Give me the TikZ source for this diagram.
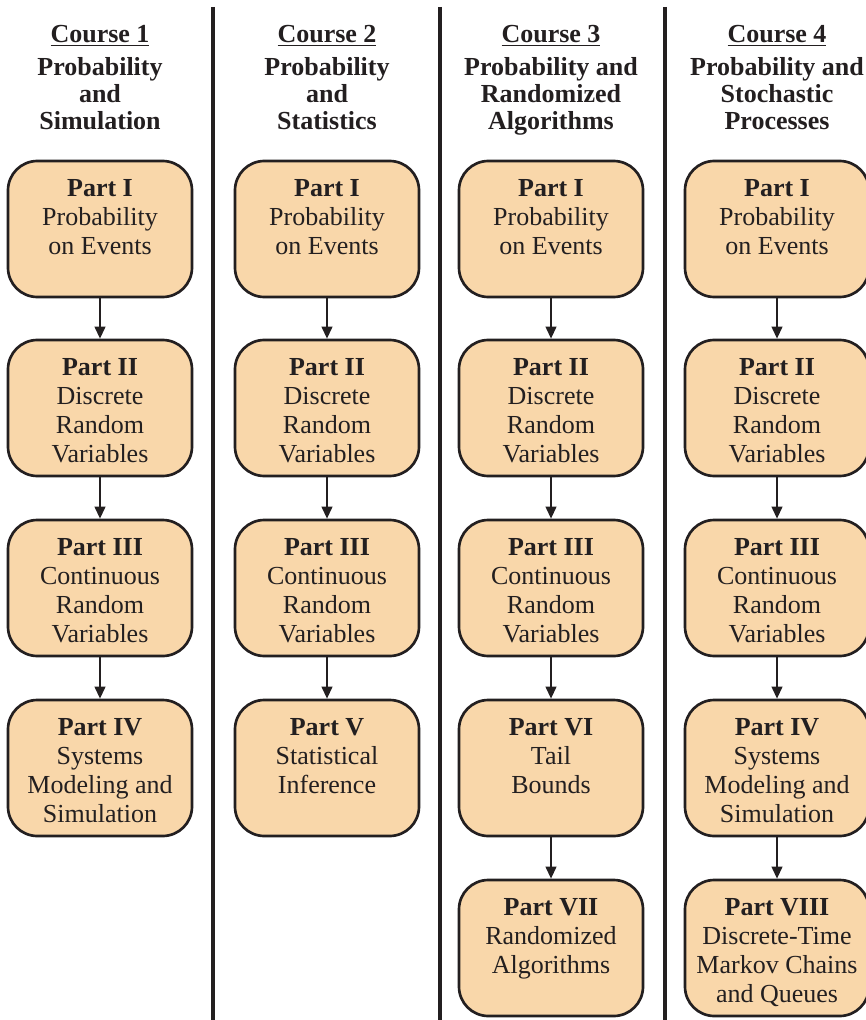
\documentclass[tikz,border=0pt]{standalone}
\usepackage{fontspec}
\setmainfont{Liberation Serif}
\usetikzlibrary{arrows.meta}
\definecolor{ink}{RGB}{35,31,32}
\definecolor{peach}{RGB}{249,215,170}
\tikzset{
  box/.style={draw=ink, fill=peach, line width=2pt, rounded corners=22pt,
    minimum width=138pt, minimum height=102pt, inner sep=0pt},
  ptext/.style={anchor=base, inner sep=0pt, text=ink,
    font=\fontsize{19.5pt}{21.75pt}\selectfont},
  htext/.style={anchor=base, inner sep=0pt, text=ink,
    font=\fontsize{19.5pt}{20.25pt}\selectfont\bfseries},
  arr/.style={draw=ink, line width=1.5pt, -{Triangle[length=9pt,width=8pt]}},
  sep/.style={draw=ink, line width=3pt}
}
\newcommand\mkpart[4]{%
  \node[box] (#1) at (#2, #3+68) {};
  \node[ptext] (#1t) at (#2, #3+35) {\begin{tabular}[t]{@{}c@{}}#4\end{tabular}};
}
\begin{document}
\begin{tikzpicture}[x=0.75pt,y=-0.75pt]
\useasboundingbox (0,0) rectangle (865,1020);
% separators
\draw[sep] (212.5,7) -- (212.5,1020);
\draw[sep] (440,7) -- (440,1020);
\draw[sep] (664.5,7) -- (664.5,1020);
% headers
\node[htext] (h1) at (100,43) {\begin{tabular}[t]{@{}c@{}}\underline{Course 1}\\[4.5pt] Probability\\ and\\ Simulation\end{tabular}};
\node[htext] (h2) at (327,43) {\begin{tabular}[t]{@{}c@{}}\underline{Course 2}\\[4.5pt] Probability\\ and\\ Statistics\end{tabular}};
\node[htext] (h3) at (551,43) {\begin{tabular}[t]{@{}c@{}}\underline{Course 3}\\[4.5pt] Probability and\\ Randomized\\ Algorithms\end{tabular}};
\node[htext] (h4) at (777,43) {\begin{tabular}[t]{@{}c@{}}\underline{Course 4}\\[4.5pt] Probability and\\ Stochastic\\ Processes\end{tabular}};
% column 1
\mkpart{a1}{100}{161}{\textbf{Part I}\\ Probability\\ on Events}
\mkpart{a2}{100}{340}{\textbf{Part II}\\ Discrete\\ Random\\ Variables}
\mkpart{a3}{100}{520}{\textbf{Part III}\\ Continuous\\ Random\\ Variables}
\mkpart{a4}{100}{700}{\textbf{Part IV}\\ Systems\\ Modeling and\\ Simulation}
% column 2
\mkpart{b1}{327}{161}{\textbf{Part I}\\ Probability\\ on Events}
\mkpart{b2}{327}{340}{\textbf{Part II}\\ Discrete\\ Random\\ Variables}
\mkpart{b3}{327}{520}{\textbf{Part III}\\ Continuous\\ Random\\ Variables}
\mkpart{b4}{327}{700}{\textbf{Part V}\\ Statistical\\ Inference}
% column 3
\mkpart{c1}{551}{161}{\textbf{Part I}\\ Probability\\ on Events}
\mkpart{c2}{551}{340}{\textbf{Part II}\\ Discrete\\ Random\\ Variables}
\mkpart{c3}{551}{520}{\textbf{Part III}\\ Continuous\\ Random\\ Variables}
\mkpart{c4}{551}{700}{\textbf{Part VI}\\ Tail\\ Bounds}
\mkpart{c5}{551}{880}{\textbf{Part VII}\\ Randomized\\ Algorithms}
% column 4
\mkpart{d1}{777}{161}{\textbf{Part I}\\ Probability\\ on Events}
\mkpart{d2}{777}{340}{\textbf{Part II}\\ Discrete\\ Random\\ Variables}
\mkpart{d3}{777}{520}{\textbf{Part III}\\ Continuous\\ Random\\ Variables}
\mkpart{d4}{777}{700}{\textbf{Part IV}\\ Systems\\ Modeling and\\ Simulation}
\mkpart{d5}{777}{880}{\textbf{Part VIII}\\ Discrete-Time\\ Markov Chains\\ and Queues}
% arrows
\foreach \c/\n in {a/4,b/4,c/5,d/5}{
  \foreach \i [evaluate=\i as \j using int(\i+1)] in {1,...,\numexpr\n-1\relax}{
    \draw[arr] (\c\i.south) -- (\c\j.north);
  }
}
\end{tikzpicture}
\end{document}
